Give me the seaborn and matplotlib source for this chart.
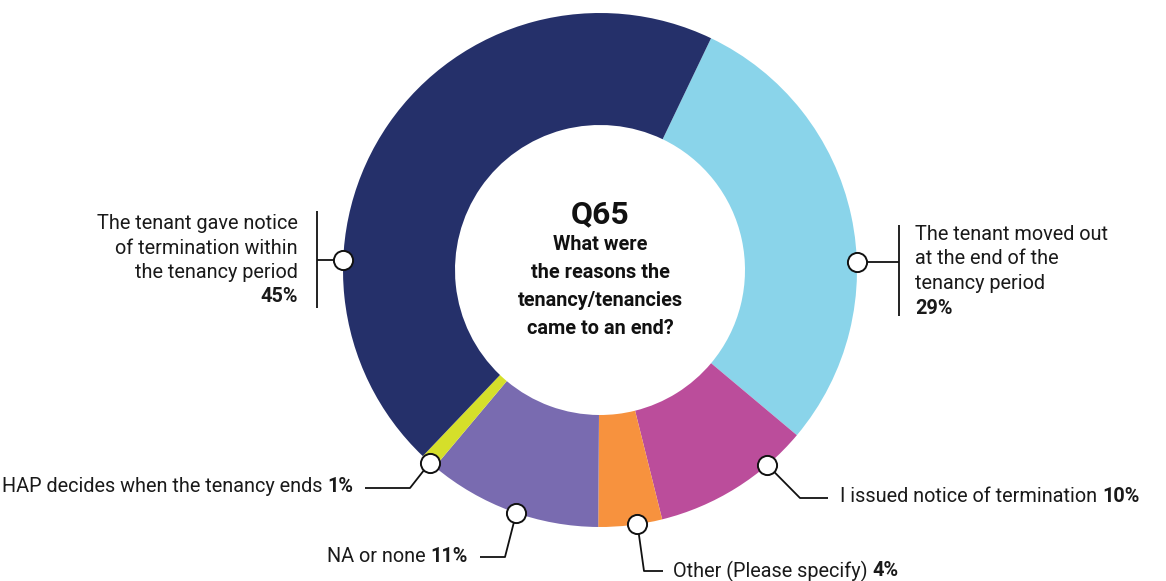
import matplotlib
matplotlib.use("Agg")
import matplotlib.pyplot as plt
import seaborn as sns
import numpy as np

# ---- data ----
categories = [
    "The tenant moved out\nat the end of the\ntenancy period",
    "I issued notice of termination",
    "Other (Please specify)",
    "NA or none",
    "HAP decides when the tenancy ends",
    "The tenant gave notice\nof termination within\nthe tenancy period",
]
values = [29, 10, 4, 11, 1, 45]
value_labels = ["29%", "10%", "4%", "11%", "1%", "45%"]
colors = ["#8ad4ea", "#bb4d9b", "#f7923e", "#796bb0", "#d5df2a", "#25306a"]
title_q = "Q65"
title_text = "What were\nthe reasons the\ntenancy/tenancies\ncame to an end?"

sns.set_theme(style="white")
plt.rcParams["font.family"] = ["Roboto", "DejaVu Sans"]

W, H = 1166, 581
fig = plt.figure(figsize=(W / 100, H / 100), dpi=100)
ax = fig.add_axes([0, 0, 1, 1])
ax.set_xlim(0, W)
ax.set_ylim(0, H)

cx, cy = 600, H - 270
R_out, R_in = 257, 145
start_cw = 25.6  # degrees clockwise from top where first wedge starts

ax.pie(values, colors=colors, startangle=90 - start_cw, counterclock=False,
       radius=R_out, center=(cx, cy),
       wedgeprops=dict(width=R_out - R_in, linewidth=0), frame=True)
ax.set_xlim(0, W)
ax.set_ylim(0, H)
ax.set_aspect("equal")
ax.axis("off")

def Y(y):
    return H - y

FS = 14.3
# center text
ax.text(cx, Y(214), title_q, ha="center", va="center", fontsize=23,
        fontweight="bold", color="#111111")
ax.text(cx, Y(286), title_text, ha="center", va="center", fontsize=FS,
        fontweight="bold", color="#111111", linespacing=1.6)

# marker positions: fraction along each wedge (layout)
marker_frac = [0.60, 0.26, 0.39, 0.47, 0.40, 0.30]
cum = np.concatenate([[0], np.cumsum(values)]) / sum(values) * 360 + start_cw
mpos = []
for i, f in enumerate(marker_frac):
    th = np.deg2rad(cum[i] + f * (cum[i + 1] - cum[i]))
    mpos.append((cx + R_out * np.sin(th), cy + R_out * np.cos(th)))

TXT = "#1a1a1a"
LW = 1.3

def line(pts):
    xs = [p[0] for p in pts]
    ys = [p[1] for p in pts]
    ax.plot(xs, ys, color="#111111", lw=LW, zorder=4, solid_capstyle="butt")

renderer = fig.canvas.get_renderer()

def inline_label(x, y, regular, bold, ha):
    if ha == "left":
        t1 = ax.text(x, y, regular, ha="left", va="center", fontsize=FS, color=TXT)
        bb = t1.get_window_extent(renderer)
        ax.text(bb.x1 + 5, y, bold, ha="left", va="center", fontsize=FS,
                fontweight="bold", color=TXT)
    else:
        t2 = ax.text(x, y, bold, ha="right", va="center", fontsize=FS,
                     fontweight="bold", color=TXT)
        bb = t2.get_window_extent(renderer)
        ax.text(bb.x0 - 5, y, regular, ha="right", va="center", fontsize=FS, color=TXT)

# 0: light blue (right, stacked)
mx, my = mpos[0]
line([(mx, my), (899, my)])
line([(899, Y(225)), (899, Y(316))])
ax.text(915, Y(259), categories[0], ha="left", va="center", fontsize=FS,
        color=TXT, linespacing=1.35)
ax.text(915, Y(309), value_labels[0], ha="left", va="center", fontsize=FS,
        fontweight="bold", color=TXT)

# 5: navy (left, stacked)
mx, my = mpos[5]
line([(mx, my), (317, my)])
line([(317, Y(211)), (317, Y(308))])
ax.text(298, Y(248), categories[5], ha="right", va="center", fontsize=FS,
        color=TXT, linespacing=1.35, multialignment="right")
ax.text(298, Y(297), value_labels[5], ha="right", va="center", fontsize=FS,
        fontweight="bold", color=TXT)

# 1: magenta
mx, my = mpos[1]
line([(mx, my), (800, Y(498)), (828, Y(498))])
inline_label(840, Y(497), categories[1], value_labels[1], "left")

# 2: orange
mx, my = mpos[2]
line([(mx, my), (644, Y(571)), (663, Y(571))])
inline_label(673, Y(571), categories[2], value_labels[2], "left")

# 3: purple
mx, my = mpos[3]
line([(mx, my), (505, Y(557)), (480, Y(557))])
inline_label(468, Y(557), categories[3], value_labels[3], "right")

# 4: yellow
mx, my = mpos[4]
line([(mx, my), (410, Y(488)), (365, Y(488))])
inline_label(353, Y(487), categories[4], value_labels[4], "right")

# circle markers
for (mx, my) in mpos:
    ax.scatter([mx], [my], s=190, facecolor="white", edgecolor="#111111",
               linewidth=1.4, zorder=6)

fig.savefig("out.png", dpi=100, facecolor="white")
